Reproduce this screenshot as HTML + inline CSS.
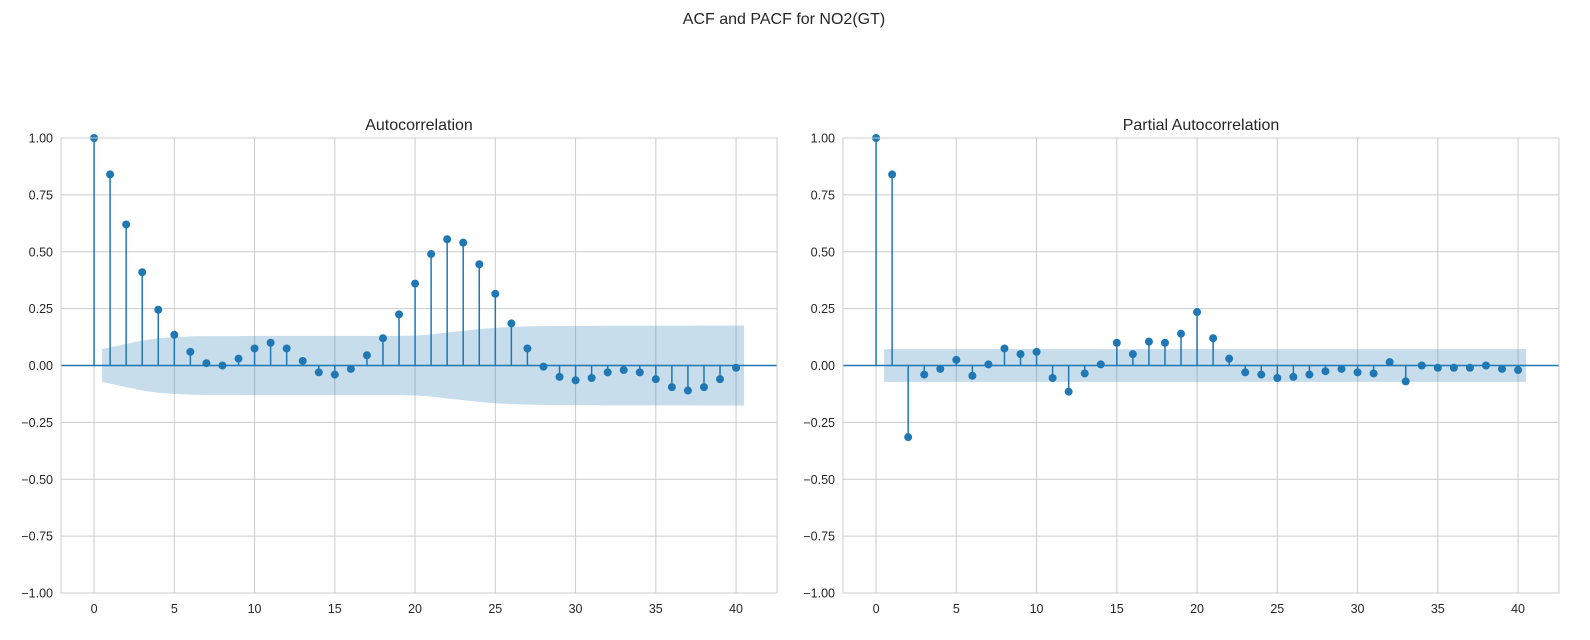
<!DOCTYPE html>
<html><head><meta charset="utf-8"><style>
body{margin:0;background:#fff;font-family:"Liberation Sans",sans-serif}
svg text{font-family:"Liberation Sans","DejaVu Sans",sans-serif;fill:#262626}
</style></head><body>
<svg id="fig" width="1590" height="635" xmlns="http://www.w3.org/2000/svg">
<text x="784" y="24" text-anchor="middle" font-size="16">ACF and PACF for NO2(GT)</text>
</svg>
<script>
const lags=[];for(let i=0;i<=40;i++)lags.push(i);
const acfValues=[1,0.84,0.62,0.41,0.245,0.135,0.06,0.01,0.0,0.03,0.075,0.10,0.075,0.02,-0.03,-0.04,-0.015,0.045,0.12,0.225,0.36,0.49,0.555,0.54,0.445,0.315,0.185,0.075,-0.005,-0.05,-0.065,-0.055,-0.03,-0.02,-0.03,-0.06,-0.095,-0.11,-0.095,-0.06,-0.01];
const acfConf=[0,0.072,0.095,0.11,0.12,0.125,0.128,0.129,0.129,0.129,0.13,0.13,0.13,0.13,0.13,0.13,0.13,0.13,0.13,0.13,0.132,0.136,0.145,0.152,0.16,0.166,0.17,0.172,0.173,0.174,0.174,0.174,0.175,0.175,0.175,0.175,0.175,0.175,0.176,0.176,0.176];
const pacfValues=[1,0.84,-0.315,-0.04,-0.015,0.025,-0.045,0.005,0.075,0.05,0.06,-0.055,-0.115,-0.035,0.005,0.10,0.05,0.105,0.10,0.14,0.235,0.12,0.03,-0.03,-0.04,-0.055,-0.05,-0.04,-0.025,-0.015,-0.03,-0.035,0.015,-0.07,0.0,-0.01,-0.01,-0.01,0.0,-0.015,-0.02];
const pacfConf=lags.map(i=>i===0?0:0.072);
const xTicks=[0,5,10,15,20,25,30,35,40];
const yTicks=[-1,-0.75,-0.5,-0.25,0,0.25,0.5,0.75,1];
const NS="http://www.w3.org/2000/svg";
const svg=document.getElementById('fig');
function mk(tag,attrs,parent){const e=document.createElementNS(NS,tag);for(const k in attrs)e.setAttribute(k,attrs[k]);(parent||svg).appendChild(e);return e;}
function panel(left,title,vals,conf,key){
  const L=left,R=left+716,T=138,B=593;
  const x=v=>L+(v+2.06)/(44.61)*(R-L);
  const y=v=>T+(1-v)/2*(B-T);
  const g=mk('g',{});
  
  
  xTicks.forEach(t=>{mk('line',{x1:x(t),x2:x(t),y1:T,y2:B,stroke:'#cccccc','stroke-width':1},g);
    const tx=mk('text',{x:x(t),y:B+20,'text-anchor':'middle','font-size':12.5},g);tx.textContent=t;
    });
  yTicks.forEach(t=>{mk('line',{x1:L,x2:R,y1:y(t),y2:y(t),stroke:'#cccccc','stroke-width':1},g);
    const tx=mk('text',{x:L-8,y:y(t)+4.5,'text-anchor':'end','font-size':12.5},g);tx.textContent=(t<0?'\u2212':'')+Math.abs(t).toFixed(2);
    });
  let up='',dn='';
  const pts=[];for(let i=1;i<lags.length;i++)pts.push(i);
  const xs=[0.5,...pts.slice(1).map(i=>i),40.5];
  const cs=[conf[1],...pts.slice(1).map(i=>conf[i]),conf[40]];
  xs.forEach((xv,i)=>{up+=(i?'L':'M')+x(xv)+','+y(cs[i]);});
  for(let i=xs.length-1;i>=0;i--)up+='L'+x(xs[i])+','+y(-cs[i]);
  const band=mk('path',{d:up+'Z',fill:'#1f77b4','fill-opacity':0.25},g);
  
  mk('line',{x1:L,x2:R,y1:y(0),y2:y(0),stroke:'#1f77b4','stroke-width':1.5},g);
  lags.forEach((l,i)=>{
    const s=mk('line',{x1:x(l),x2:x(l),y1:y(0),y2:y(vals[i]),stroke:'#1f77b4','stroke-width':1.5},g);
    
    const c=mk('circle',{cx:x(l),cy:y(vals[i]),r:4,fill:'#1f77b4'},g);
    
  });
  mk('rect',{x:L,y:T,width:R-L,height:B-T,fill:'none',stroke:'#cccccc','stroke-width':1},g);
  const tt=mk('text',{x:(L+R)/2,y:T-8,'text-anchor':'middle','font-size':16},g);tt.textContent=title;
  
}
panel(61,'Autocorrelation',acfValues,acfConf,'acf');
panel(843,'Partial Autocorrelation',pacfValues,pacfConf,'pacf');
</script>
</body></html>
